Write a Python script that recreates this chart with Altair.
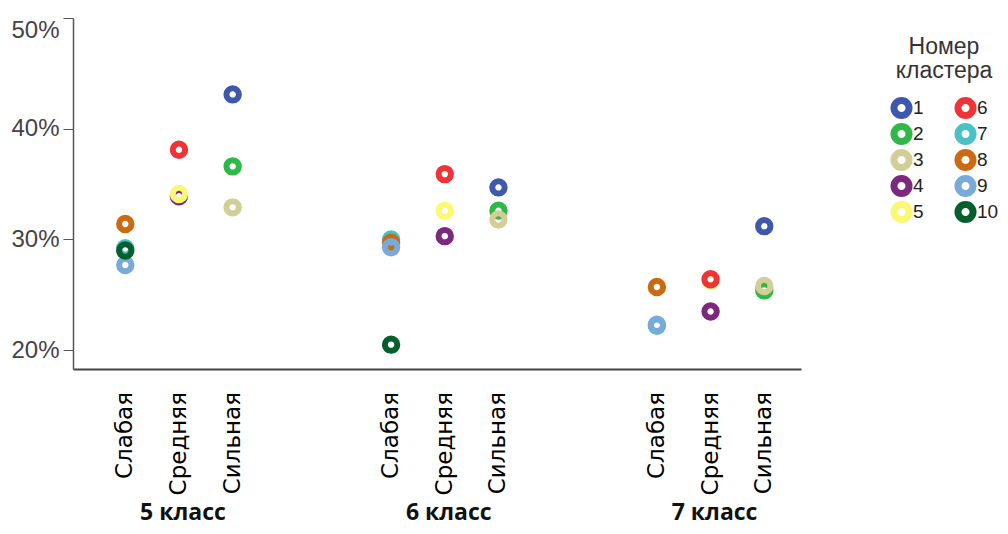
import altair as alt
import pandas as pd

classes = ["5 класс", "6 класс", "7 класс"]
levels = ["Слабая", "Средняя", "Сильная"]

clusters = ["1", "2", "3", "4", "5", "6", "7", "8", "9", "10"]
cluster_colors = ["#3E58AC", "#2EB848", "#D3CE97", "#7C287D", "#FBF873",
                  "#EF3338", "#48C2C5", "#CC6A12", "#7AAAD9", "#03602C"]

point_class = ["5 класс"] * 10 + ["6 класс"] * 10 + ["7 класс"] * 9
point_level = (["Слабая"] * 4 + ["Средняя"] * 3 + ["Сильная"] * 3
               + ["Слабая"] * 4 + ["Средняя"] * 3 + ["Сильная"] * 3
               + ["Слабая"] * 3 + ["Средняя"] * 3 + ["Сильная"] * 3)
point_cluster = ["7", "8", "9", "10", "4", "5", "6", "1", "2", "3",
                 "7", "8", "9", "10", "4", "5", "6", "1", "2", "3",
                 "7", "8", "9", "4", "5", "6", "1", "2", "3"]
point_value = [29.2, 31.4, 27.7, 29.0, 33.9, 34.1, 38.1, 43.1, 36.6, 32.9,
               30.0, 29.7, 29.3, 20.5, 30.3, 32.6, 35.9, 34.7, 32.6, 31.8,
               22.2, 25.7, 22.3, 23.5, 26.3, 26.4, 31.2, 25.4, 25.8]

df = pd.DataFrame({"class": point_class, "level": point_level,
                   "cluster": point_cluster, "value": point_value})
df["order"] = df["cluster"].astype(int)
df = df.sort_values("order", kind="stable").reset_index(drop=True)

lab_df = pd.DataFrame({"class": [c for c in classes for _ in levels],
                       "level": [l for _ in classes for l in levels]})

W, H = 728, 351

x_enc = alt.X("class:N", sort=classes,
              scale=alt.Scale(domain=classes, paddingInner=0.394,
                              paddingOuter=0.0664, align=0.72),
              axis=alt.Axis(title=None, ticks=False, labelAngle=0,
                            labelFont="Open Sans", labelFontWeight="bold",
                            labelFontSize=23, labelColor="#111111",
                            labelPadding=132, labelOffset=4,
                            domainColor="#444444", domainWidth=2))
xo_enc = alt.XOffset("level:N", sort=levels,
                     scale=alt.Scale(type="point", domain=levels, padding=0.5))

points = alt.Chart(df).mark_point(
    shape="circle", filled=False, size=154, strokeWidth=6, opacity=1
).encode(
    x=x_enc,
    xOffset=xo_enc,
    y=alt.Y("value:Q",
            scale=alt.Scale(domain=[18.3, 50], nice=False, zero=False),
            axis=alt.Axis(values=[20, 30, 40, 50], labelExpr="datum.value + '%'",
                          title=None, grid=False, tickSize=10, labelPadding=4,
                          labelFont="Liberation Sans", labelFontSize=24,
                          labelColor="#444444", tickColor="#555555",
                          domainColor="#555555", domainWidth=1.5,
                          labelFlush=True)),
    color=alt.Color("cluster:N",
                    scale=alt.Scale(domain=clusters, range=cluster_colors),
                    legend=alt.Legend(
                        title=["Номер", "кластера"], orient="none",
                        legendX=817, legendY=18, columns=2,
                        symbolType="circle", symbolSize=227,
                        symbolStrokeWidth=7, symbolFillColor="white",
                        titleFont="Liberation Sans", titleFontSize=23,
                        titleFontWeight="normal", titleColor="#333333",
                        titleLineHeight=24, titleAnchor="middle",
                        titleAlign="center", titlePadding=12,
                        labelFont="Liberation Sans", labelFontSize=19,
                        labelColor="#222222", labelOffset=0,
                        columnPadding=30, rowPadding=0, clipHeight=26)),
    order=alt.Order("order:Q"),
)

labels = alt.Chart(lab_df).mark_text(
    angle=270, align="right", baseline="middle",
    font="DejaVu Sans", fontSize=23, color="#000000"
).encode(
    x=x_enc,
    xOffset=xo_enc,
    y=alt.value(H + 23),
    text="level:N",
)

chart = alt.layer(points, labels).properties(
    width=W, height=H,
    padding={"left": 2, "top": 9, "right": 0, "bottom": 2},
).configure_view(stroke=None)

chart.save("out.html", embed_options={"renderer": "svg", "actions": False})
